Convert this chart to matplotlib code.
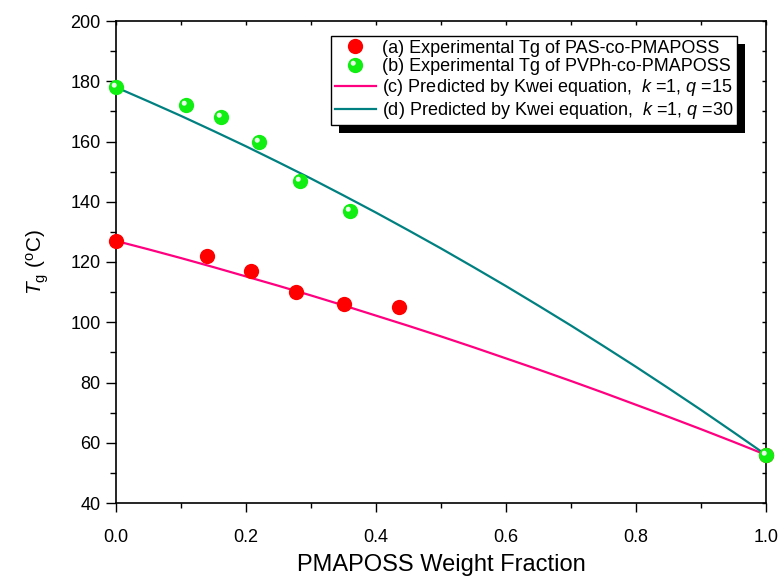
import numpy as np
import matplotlib.pyplot as plt
from matplotlib.path import Path
from matplotlib.patches import Rectangle
from matplotlib.legend_handler import HandlerTuple
from matplotlib.ticker import MultipleLocator

plt.rcParams['font.family'] = ['Liberation Sans', 'DejaVu Sans']
plt.rcParams['mathtext.fontset'] = 'custom'
plt.rcParams['mathtext.it'] = 'Liberation Sans:italic'
plt.rcParams['mathtext.rm'] = 'Liberation Sans'

# experimental Tg data
w_pas = [0.0, 0.14, 0.208, 0.277, 0.35, 0.435, 1.0]
tg_pas = [127, 122, 117, 110, 106, 105, 56]
w_pvph = [0.0, 0.107, 0.162, 0.22, 0.283, 0.36, 1.0]
tg_pvph = [178, 172, 168, 160, 147, 137, 56]

# Kwei curves
w_fit = [0.0, 0.05, 0.1, 0.15, 0.2, 0.25, 0.3, 0.35, 0.4, 0.45, 0.5,
         0.55, 0.6, 0.65, 0.7, 0.75, 0.8, 0.85, 0.9, 0.95, 1.0]
tg_q15 = [127, 124.2, 121.3, 118.3, 115.2, 112.1, 108.9, 105.6, 102.2, 98.8, 95.3,
          91.7, 88.0, 84.3, 80.5, 76.6, 72.6, 68.6, 64.5, 60.3, 56]
tg_q30 = [178, 173.3, 168.5, 163.5, 158.4, 153.1, 147.7, 142.1, 136.4, 130.5, 124.5,
          118.3, 112.0, 105.5, 98.9, 92.1, 85.2, 78.1, 70.9, 63.5, 56]

labels = ['(a) Experimental Tg of PAS-co-PMAPOSS',
          '(b) Experimental Tg of PVPh-co-PMAPOSS',
          r'(c) Predicted by Kwei equation,  $k$ =1, $q$ =15',
          r'(d) Predicted by Kwei equation,  $k$ =1, $q$ =30']

# small off-centre highlight for the "sphere" look
circ = Path.unit_circle()
hl_verts = np.vstack([[[-1, -1], [1, 1]], circ.vertices * 0.33 + [-0.3, 0.3]])
hl_codes = [Path.MOVETO, Path.MOVETO] + list(circ.codes)
highlight = Path(hl_verts, hl_codes)

fig = plt.figure(figsize=(7.8, 5.79), dpi=100)
ax = fig.add_axes([116 / 780, 76 / 579, 650 / 780, 482 / 579])

l1, = ax.plot(w_fit, tg_q15, color='#ff0080', lw=1.6, zorder=2)
l2, = ax.plot(w_fit, tg_q30, color='#008080', lw=1.6, zorder=2)
p1, = ax.plot(w_pas, tg_pas, 'o', color='#ff0000', ms=11, mew=0, zorder=3, clip_on=False)
p2, = ax.plot(w_pvph, tg_pvph, 'o', color='#11ee11', ms=11, mew=0, zorder=4, clip_on=False)
p2h, = ax.plot(w_pvph, tg_pvph, ls='none', marker=highlight, color='#e8ffe8',
               ms=11, mew=0, zorder=5, clip_on=False)

ax.set_xlim(0, 1)
ax.set_ylim(40, 200)
ax.xaxis.set_minor_locator(MultipleLocator(0.1))
ax.yaxis.set_major_locator(MultipleLocator(20))
ax.yaxis.set_minor_locator(MultipleLocator(10))
ax.set_xticks(np.arange(0, 1.01, 0.2))
ax.set_xticklabels(['0.0', '0.2', '0.4', '0.6', '0.8', '1.0'])
ax.tick_params(which='both', direction='out', width=1.0, labelsize=13)
ax.tick_params(axis='x', which='major', length=6.5, pad=12)
ax.tick_params(axis='x', which='minor', length=3.5)
ax.tick_params(axis='y', which='major', length=7, pad=4)
ax.tick_params(axis='y', which='minor', length=4.3)
ax.tick_params(which='both', top=True, right=True)
for s in ax.spines.values():
    s.set_linewidth(1.2)
# top/right ticks point inward
for t in ax.xaxis.get_ticklines(minor=False)[1::2] + ax.xaxis.get_ticklines(minor=True)[1::2]:
    t.set_marker(3)
    t.set_markersize(3)
for t in ax.yaxis.get_ticklines(minor=False)[1::2] + ax.yaxis.get_ticklines(minor=True)[1::2]:
    t.set_marker(0)
    t.set_markersize(3)

ax.set_xlabel('PMAPOSS Weight Fraction', fontsize=17, labelpad=6)
ax.set_ylabel(r'$T_{\rm g}$ ($^{\rm o}$C)', fontsize=15, labelpad=14)

leg = ax.legend([p1, (p2, p2h), l1, l2], labels,
                handler_map={tuple: HandlerTuple(ndivide=1)},
                loc='upper right', bbox_to_anchor=(0.955, 0.969), borderaxespad=0,
                fontsize=13, frameon=True, fancybox=False, edgecolor='black',
                framealpha=1, handlelength=2.3, handletextpad=0.3,
                borderpad=0.2, labelspacing=0.1)
leg.get_frame().set_linewidth(1.0)
leg.set_zorder(20)

# black drop shadow behind legend
fig.canvas.draw()
bb = leg.get_window_extent().transformed(fig.transFigure.inverted())
dx, dy = 8 / 780, 8 / 579
ax.add_patch(Rectangle((bb.x0 + dx, bb.y0 - dy), bb.width, bb.height,
                       transform=fig.transFigure, facecolor='black',
                       edgecolor='none', zorder=15, clip_on=False))

fig.savefig('out.png', dpi=100)
